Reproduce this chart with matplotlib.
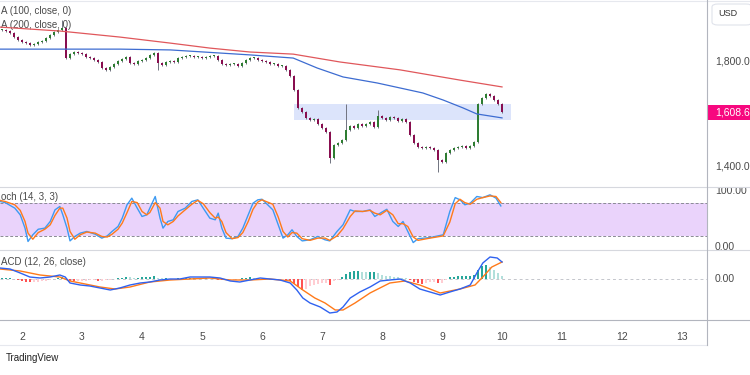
import numpy as np
import matplotlib
matplotlib.use("Agg")
import matplotlib.pyplot as plt
from matplotlib.patches import FancyBboxPatch

plt.rcParams['font.family'] = ['Liberation Sans', 'DejaVu Sans']

# --- data ---
# candle closes, one bar every 1/15 day starting at day 1.667
closes = [1922, 1918, 1910, 1895, 1884, 1876, 1872, 1865, 1869, 1876,
          1880, 1891, 1903, 1914, 1922, 1930, 1815, 1830, 1838, 1834,
          1830, 1819, 1815, 1808, 1800, 1777, 1770, 1781, 1792, 1804,
          1811, 1819, 1796, 1792, 1804, 1808, 1815, 1827, 1834, 1796,
          1789, 1800, 1804, 1800, 1815, 1819, 1823, 1823, 1819, 1819,
          1815, 1819, 1823, 1823, 1808, 1792, 1789, 1792, 1792, 1785,
          1796, 1808, 1815, 1815, 1808, 1804, 1800, 1792, 1792, 1785,
          1785, 1770, 1747, 1693, 1625, 1609, 1587, 1579, 1583, 1564,
          1549, 1533, 1434, 1484, 1491, 1503, 1541, 1556, 1549, 1564,
          1556, 1564, 1571, 1552, 1594, 1587, 1579, 1590, 1587, 1575,
          1583, 1571, 1522, 1491, 1476, 1472, 1476, 1472, 1465, 1427,
          1419, 1453, 1465, 1472, 1476, 1480, 1472, 1480, 1495, 1640,
          1663, 1678, 1670, 1655, 1640, 1609]
first_day = 1.667
bar_step = 1 / 15
spike_high = {15: 1960, 86: 1640, 94: 1617}
spike_low = {39: 1770, 82: 1415, 109: 1381}
last_price = 1608.6

ma100_t = [1.63, 2.63, 3.63, 4.47, 5.80, 6.52, 6.92, 7.35, 7.92, 8.30, 8.68, 9.02, 9.35, 9.58, 10.00]
ma100 = [1849, 1849, 1849, 1846, 1827, 1815, 1777, 1743, 1720, 1701, 1682, 1655, 1625, 1602, 1587]
ma200_t = [1.63, 2.63, 3.63, 4.47, 5.13, 5.80, 6.52, 7.30, 8.30, 9.30, 10.00]
ma200 = [1933, 1918, 1895, 1872, 1853, 1838, 1830, 1800, 1770, 1731, 1705]

zone_days = (6.53, 10.15)
zone_prices = (1579, 1640)

stoch_t = [1.63, 1.72, 1.88, 1.97, 2.05, 2.10, 2.18, 2.27, 2.38, 2.47,
           2.55, 2.63, 2.68, 2.75, 2.80, 2.88, 2.97, 3.08, 3.22, 3.33,
           3.42, 3.50, 3.60, 3.67, 3.75, 3.83, 3.92, 4.00, 4.08, 4.13,
           4.22, 4.30, 4.35, 4.43, 4.52, 4.60, 4.72, 4.83, 4.93, 5.02,
           5.13, 5.22, 5.27, 5.33, 5.40, 5.50, 5.60, 5.68, 5.77, 5.85,
           5.93, 6.00, 6.18, 6.27, 6.35, 6.43, 6.50, 6.58, 6.67, 6.80,
           6.93, 7.05, 7.13, 7.25, 7.35, 7.47, 7.55, 7.68, 7.80, 7.88,
           7.97, 8.08, 8.18, 8.27, 8.35, 8.43, 8.52, 8.60, 8.80, 9.02,
           9.13, 9.22, 9.30, 9.38, 9.47, 9.58, 9.68, 9.80, 9.90, 9.98]
stoch_k = [82, 80, 70, 58, 34, 10, 22, 32, 34, 46,
           67, 73, 58, 34, 11, 19, 25, 28, 23, 16,
           20, 28, 37, 52, 76, 88, 70, 55, 58, 70,
           91, 52, 34, 46, 49, 64, 70, 82, 85, 70,
           52, 49, 61, 34, 16, 15, 19, 34, 58, 79,
           85, 86, 67, 40, 16, 22, 31, 19, 11, 13,
           19, 13, 11, 28, 40, 67, 64, 64, 67, 55,
           61, 68, 46, 37, 46, 28, 8, 15, 17, 22,
           64, 89, 85, 76, 79, 91, 89, 94, 88, 74]
stoch_d = [84, 82, 76, 66, 46, 25, 14, 26, 32, 40,
           57, 70, 70, 52, 28, 14, 22, 27, 25, 19,
           18, 23, 32, 43, 62, 82, 80, 64, 58, 62,
           80, 70, 46, 40, 46, 56, 67, 77, 84, 78,
           62, 52, 54, 46, 26, 15, 17, 26, 46, 68,
           81, 85, 77, 54, 28, 18, 26, 25, 15, 12,
           16, 16, 12, 20, 33, 55, 65, 64, 66, 61,
           58, 66, 58, 42, 42, 37, 18, 12, 16, 20,
           45, 78, 86, 80, 77, 86, 89, 92, 91, 80]

macd_t = [1.63, 1.80, 1.97, 2.13, 2.30, 2.47, 2.63, 2.72, 2.80, 2.97,
          3.13, 3.30, 3.47, 3.63, 3.80, 3.97, 4.13, 4.30, 4.47, 4.63,
          4.80, 4.97, 5.13, 5.30, 5.47, 5.63, 5.80, 5.97, 6.13, 6.30,
          6.47, 6.58, 6.68, 6.80, 6.97, 7.13, 7.25, 7.35, 7.47, 7.63,
          7.80, 7.97, 8.13, 8.30, 8.47, 8.63, 8.80, 8.97, 9.13, 9.30,
          9.47, 9.58, 9.68, 9.80, 9.92, 10.00]
macd_line = [11, 10, 6, 2, 1, 2, 4, 2, -4, -6,
             -7, -9, -11, -9, -6, -4, -3, -1, 0, 0,
             2, 2, 2, 1, -2, -3, -1, 1, 0, -1,
             -4, -11, -19, -24, -28, -34, -33, -28, -19, -13,
             -8, -2, -1, 0, -4, -10, -13, -16, -13, -10,
             -6, 6, 16, 22, 21, 17]
signal_t = [1.63, 1.97, 2.30, 2.63, 2.80, 2.97, 3.30, 3.55, 3.80, 4.13,
            4.47, 4.80, 5.13, 5.47, 5.80, 6.13, 6.47, 6.68, 6.88, 7.05,
            7.22, 7.35, 7.55, 7.80, 8.13, 8.38, 8.63, 8.97, 9.30, 9.55,
            9.68, 9.83, 10.00]
signal_line = [10, 8, 4, 2, -2, -4, -8, -10, -8, -3,
               -1, 0, 1, -1, -1, 0, -2, -11, -19, -24,
               -31, -31, -24, -14, -4, -2, -6, -14, -10, -6,
               2, 12, 17]
hist = [1, 1, 1, 0.5, -0.5, -1.5, -2.5, -3, -3, -2.5,
        -2, -1.5, -1, 0.5, 1.5, 2, 1, -1.5, -2, -2,
        -1.5, -1.5, -1, -1, -1.5, -1.5, -1, -0.5, 0.5, 1,
        1.5, 2.5, 2, 1.5, 1.5, 2, 2.5, 2.5, 3, 1.5,
        1, 1, 0.5, 0.5, 1, 1, 1, 1.5, 1.5, 1,
        1, 1, 0.5, 0.5, -0.5, -1, -1, -1, -0.5, 0.5,
        1, 1.5, 2, 1.5, 1, 0.5, 0.5, 0.5, 0.5, -0.5,
        -0.5, -1, -2, -5, -8, -11, -10, -7, -6, -5,
        -4, -4, -6, -2, -1, 2, 5, 7, 8, 8,
        7.5, 7, 7, 7.5, 6, 4, 3.5, 3, 2.5, 2,
        1.5, 1, -1, -3, -4, -5, -4, -3, -2.5, -4,
        -3.5, -1, 2, 2.5, 3, 3, 3, 3.5, 4, 9,
        13, 14, 12, 9, 6, 3]

day_ticks = list(range(2, 14))
# indicator legends as they show in the cropped screenshot
lbl_ma100 = 'A (100, close, 0)'
lbl_ma200 = 'A (200, close, 0)'
lbl_stoch = 'och (14, 3, 3)'
lbl_macd = 'ACD (12, 26, close)'

# --- layout (pixel based, 750x375) ---
W, H = 750, 375
XR = 707            # right edge of panes
xlim = (1.633, 1.633 + XR / 60)
text_c = '#4a4a4a'
line_c = '#d6d8de'


def rect(top, bottom, left=0, right=XR):
    return [left / W, 1 - bottom / H, (right - left) / W, (bottom - top) / H]


def clean(a):
    for s in a.spines.values():
        s.set_visible(False)
    a.set_xticks([])
    a.set_yticks([])
    a.set_xlim(*xlim)


fig = plt.figure(figsize=(7.5, 3.75), dpi=100)
fig.patch.set_facecolor('white')

ax = fig.add_axes(rect(0, 187))
ax_st = fig.add_axes(rect(187, 250))
ax_md = fig.add_axes(rect(250, 320))
for a in (ax, ax_st, ax_md):
    clean(a)
ax.set_ylim(1323.7, 2036.2)
ax_st.set_ylim(-5.4, 108.1)
ax_md.set_ylim(-41, 29)

# right price scales
axr = fig.add_axes(rect(0, 187, XR, W), sharey=ax)
axr_st = fig.add_axes(rect(187, 250, XR, W), sharey=ax_st)
axr_md = fig.add_axes(rect(250, 320, XR, W), sharey=ax_md)
for a in (axr, axr_st, axr_md):
    for s in a.spines.values():
        s.set_visible(False)
    a.tick_params(left=False, bottom=False, labelleft=False, labelbottom=False)
    a.set_xlim(0, 1)

# --- candles ---
n = len(closes)
t = first_day + np.arange(n) * bar_step
c = np.array(closes, dtype=float)
o = np.concatenate([[c[0]], c[:-1]])
hi = np.maximum(o, c) + 5
lo = np.minimum(o, c) - 5
for i, v in spike_high.items():
    hi[i] = v
for i, v in spike_low.items():
    lo[i] = v
up = c >= o
cols = np.where(up, '#2e7d32', '#880e4f')
ax.add_patch(plt.Rectangle((zone_days[0], zone_prices[0]), zone_days[1] - zone_days[0],
                           zone_prices[1] - zone_prices[0], color='#dce4fb', zorder=1, lw=0))
ax.vlines(t, lo, hi, color='#707380', lw=0.7, zorder=2)
body = np.maximum(np.abs(c - o), 3)
ax.bar(t, body, bottom=np.minimum(o, c), width=bar_step * 0.65, color=cols, zorder=3, lw=0)
ax.plot(ma200_t, ma200, color='#e0575b', lw=0.9, zorder=4)
ax.plot(ma100_t, ma100, color='#3d6cd1', lw=0.9, zorder=4)

ax.text(0.001, 1983, lbl_ma100, transform=ax.get_yaxis_transform(), fontsize=7, color=text_c)
ax.text(0.001, 1931, lbl_ma200, transform=ax.get_yaxis_transform(), fontsize=7, color=text_c, zorder=1)

# --- stochastic ---
ax_st.axhspan(20, 80, color='#ead3fb', lw=0, zorder=0)
for lvl in (20, 80):
    ax_st.axhline(lvl, color='#8a8a94', lw=0.7, ls=(0, (3, 2)), zorder=1)
ax_st.plot(stoch_t, stoch_d, color='#ff7a1a', lw=1.0, zorder=3)
ax_st.plot(stoch_t, stoch_k, color='#3d9af2', lw=1.0, zorder=2)
ax_st.text(0.001, 0.8, lbl_stoch, transform=ax_st.transAxes, fontsize=7, color=text_c)

# --- MACD ---
hv = np.array(hist, dtype=float)
prev = np.concatenate([[hv[0]], hv[:-1]])
hcols = np.where(hv >= 0, np.where(hv >= prev, '#26a69a', '#b2dfdb'),
                 np.where(hv < prev, '#ff5252', '#ffcdd2'))
ax_md.bar(t, hv, width=bar_step * 0.7, color=hcols, lw=0, zorder=2)
ax_md.axhline(0, color='#c4c6cc', lw=0.7, ls=(0, (3, 3)), zorder=1)
ax_md.plot(signal_t, signal_line, color='#ff7a1a', lw=1.0, zorder=3)
ax_md.plot(macd_t, macd_line, color='#2f62f0', lw=1.0, zorder=4)
ax_md.text(0.001, 0.78, lbl_macd, transform=ax_md.transAxes, fontsize=7, color=text_c)

# date labels along the bottom pane
ax_md.set_xticks(day_ticks)
ax_md.set_xticklabels([str(d) for d in day_ticks], fontsize=7.5, color=text_c)
ax_md.tick_params(axis='x', length=0, pad=9)

# --- right scale labels ---
for v in (1800, 1400):
    axr.text(0.18, v, f'{v:,.1f}', fontsize=7.5, color=text_c, va='center', clip_on=True)
axr.axhspan(last_price - 28, last_price + 28, color='#f7087f', lw=0)
axr.text(0.18, last_price, f'{last_price:,.1f}', fontsize=7.5, color='white', va='center')
axr_st.text(0.18, 100, '100.00', fontsize=7.5, color=text_c, va='center', clip_on=True)
axr_st.text(0.18, 0, '0.00', fontsize=7.5, color=text_c, va='center', clip_on=True)
axr_md.text(0.18, 0, '0.00', fontsize=7.5, color=text_c, va='center', clip_on=True)

box = FancyBboxPatch((712 / W, 1 - 25 / H), 40 / W, 21 / H, boxstyle='round,pad=0,rounding_size=0.008',
                     transform=fig.transFigure, fc='white', ec='#e0e3eb', lw=0.8)
fig.patches.append(box)
fig.text(718 / W, 1 - 14 / H, 'USD', fontsize=6.5, color='#333333', va='center')

# --- separators ---
for y, right, col in ((187, W, line_c), (250, W, line_c), (320, W, '#b2b5be'), (345, XR, '#e6e8ee'), (1, W, '#e6e8ee')):
    fig.add_artist(plt.Line2D([0, right / W], [1 - y / H] * 2, color=col, lw=0.8))
fig.add_artist(plt.Line2D([XR / W] * 2, [1, 1 - 345 / H], color='#b2b5be', lw=0.8))

fig.text(6 / W, 1 - 358 / H, 'TradingView', fontsize=7, color='#222222', va='center')

fig.savefig('out.png', dpi=100)
